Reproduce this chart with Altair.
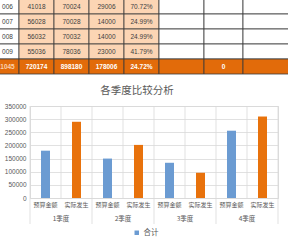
import altair as alt
import pandas as pd

# ---------------- data ----------------
row_labels = ["006", "007", "008", "009", "1045"]
col_budget = ["41018", "56028", "56032", "55036", "720174"]
col_actual = ["70024", "70028", "70032", "78036", "898180"]
col_diff = ["29006", "14000", "14000", "23000", "178006"]
col_rate = ["70.72%", "24.99%", "24.99%", "41.79%", "24.72%"]
total_extra = ["", "0", ""]

quarters = ["1季度", "2季度", "3季度", "4季度"]
types = ["预算金额", "实际发生"]
budget = [180000, 150000, 134000, 256000]
actual = [290000, 202000, 96000, 310000]
series_name = "合计"
y_ticks = [0, 50000, 100000, 150000, 200000, 250000, 300000, 350000]

# ---------------- layout ----------------
PL, PT, PW, PH = 30, 106, 248, 92
W, H = 288, 242
COL_START = -4
COL_W = [23, 35, 35, 35, 35, 45, 39, 50]
ROW_TOP, ROW_BOTTOM = -1, 74
FONT_CJK = "Noto Sans CJK SC"
FONT_NUM = "Liberation Sans"
GRAY = "#595959"
GRID = "#d9d9d9"
BLUE = "#6B9BD2"
ORANGE = "#E8720C"

# ---------------- table frame ----------------
edges = [COL_START]
for w in COL_W:
    edges.append(edges[-1] + w)

cells = []
n_rows = len(row_labels)
for r in range(n_rows):
    total = r == n_rows - 1
    extra = total_extra if total else ["", "", ""]
    texts = [row_labels[r], col_budget[r], col_actual[r], col_diff[r], col_rate[r]] + extra
    for c, t in enumerate(texts):
        if total:
            kind = "total_label" if c == 0 else "total"
        else:
            kind = "label" if c == 0 else ("value" if c <= 4 else "blank")
        cells.append(dict(row=r, col=c, x0=edges[c], x1=edges[c + 1], text=t, kind=kind))
tdf = pd.DataFrame(cells)

kinds = ["label", "value", "blank", "total", "total_label"]
fill_scale = alt.Scale(domain=kinds, range=["white", "#FCD5B4", "white", "#E26B0A", "#E26B0A"])
text_scale = alt.Scale(domain=kinds, range=["#404040", "#404040", "#404040", "white", "#FBD3B0"])

tx = alt.X("x0:Q", scale=alt.Scale(domain=[0, W], range=[-PL, W - PL]), axis=None)
tx2 = alt.X2("x1:Q")
ty = alt.Y("row:O", scale=alt.Scale(domain=list(range(n_rows)), range=[ROW_TOP - PT, ROW_BOTTOM - PT],
                                   paddingInner=0, paddingOuter=0), axis=None)

table_rect = alt.Chart(tdf).mark_rect(stroke="#3a3a3a", strokeWidth=0.8).encode(
    x=tx, x2=tx2, y=ty,
    color=alt.Color("kind:N", scale=fill_scale, legend=None),
)

tdf_c = tdf.assign(xc=(tdf.x0 + tdf.x1) / 2)
txc = alt.X("xc:Q", scale=alt.Scale(domain=[0, W], range=[-PL, W - PL]), axis=None)
table_text = alt.Chart(tdf_c).mark_text(font=FONT_NUM, fontSize=6.5, baseline="middle").encode(
    x=txc, y=ty, text="text:N",
    color=alt.Color("kind:N", scale=text_scale, legend=None),
).transform_filter(f"datum.row < {n_rows - 1}")
table_text_total = alt.Chart(tdf_c).mark_text(font=FONT_NUM, fontSize=6.5, fontWeight="bold", baseline="middle").encode(
    x=txc, y=ty, text="text:N",
    color=alt.Color("kind:N", scale=text_scale, legend=None),
).transform_filter(f"datum.row == {n_rows - 1}")

# ---------------- bar chart ----------------
rows = []
for q, b, a in zip(quarters, budget, actual):
    rows.append(dict(quarter=q, type=types[0], cat=f"{q}|{types[0]}", value=b))
    rows.append(dict(quarter=q, type=types[1], cat=f"{q}|{types[1]}", value=a))
bdf = pd.DataFrame(rows)
cat_order = list(bdf["cat"])

n_cat = len(cat_order)
vgrid = alt.Chart(pd.DataFrame({"b": list(range(n_cat + 1))})).mark_rule(color=GRID, strokeWidth=0.8).encode(
    x=alt.X("b:Q", scale=alt.Scale(domain=[0, n_cat], range=[0, PW]), axis=None)
)

p_in = 1 - 9 / (PW / n_cat)
bars = alt.Chart(bdf).mark_bar().encode(
    x=alt.X("cat:N", sort=cat_order,
            scale=alt.Scale(range=[0, PW], paddingInner=p_in, paddingOuter=p_in / 2),
            axis=alt.Axis(orient="bottom", title=None, labelAngle=0, ticks=False, domain=False, grid=False,
                          labelExpr="split(datum.value, '|')[1]", labelFont=FONT_CJK, labelFontSize=6,
                          labelColor=GRAY, labelPadding=3)),
    y=alt.Y("value:Q", scale=alt.Scale(domain=[0, 350000], range=[PH, 0]),
            axis=alt.Axis(orient="left", title=None, values=y_ticks, format="d", grid=True, gridColor=GRID,
                          gridWidth=0.8, domain=False, ticks=False, labelFont=FONT_NUM, labelFontSize=6.5,
                          labelColor=GRAY, labelPadding=4)),
    color=alt.Color("type:N", scale=alt.Scale(domain=types, range=[BLUE, ORANGE]),
                    legend=alt.Legend(orient="none", legendX=103, legendY=123, title=None, values=[types[0]],
                                      labelExpr=f"'{series_name}'", symbolType="square", symbolSize=20,
                                      symbolStrokeWidth=0, labelFont=FONT_CJK, labelFontSize=7.5,
                                      labelColor=GRAY, labelOffset=3, padding=0)),
)

qdf = pd.DataFrame({"quarter": quarters})
quarter_text = alt.Chart(qdf).mark_text(font=FONT_CJK, fontSize=6.5, color=GRAY, baseline="middle").encode(
    x=alt.X("quarter:N", sort=quarters, scale=alt.Scale(range=[0, PW], paddingInner=0, paddingOuter=0), axis=None),
    y=alt.value(PH + 21),
    text="quarter:N",
)

sep = alt.Chart(pd.DataFrame({"q": list(range(len(quarters) + 1))})).mark_rule(color=GRID, strokeWidth=0.8).encode(
    x=alt.X("q:Q", scale=alt.Scale(domain=[0, len(quarters)], range=[0, PW]), axis=None),
    y=alt.value(PH), y2=alt.value(PH + 26),
)

title = alt.Chart(pd.DataFrame({"t": ["各季度比较分析"]})).mark_text(
    font=FONT_CJK, fontSize=10.5, color=GRAY, baseline="middle", align="center"
).encode(x=alt.value(107), y=alt.value(-15), text="t:N")

chart = alt.layer(
    table_rect, table_text, table_text_total, vgrid, bars, quarter_text, sep, title
).resolve_scale(
    x="independent", y="independent", color="independent"
).properties(
    width=PW, height=PH,
    autosize=alt.AutoSizeParams(type="none"),
    padding={"left": PL, "top": PT, "right": W - PL - PW, "bottom": H - PT - PH},
).configure_view(fill="#f3f3f3", stroke=None).configure(background="white")

chart.save("out.html", embed_options={"renderer": "svg", "actions": False})
